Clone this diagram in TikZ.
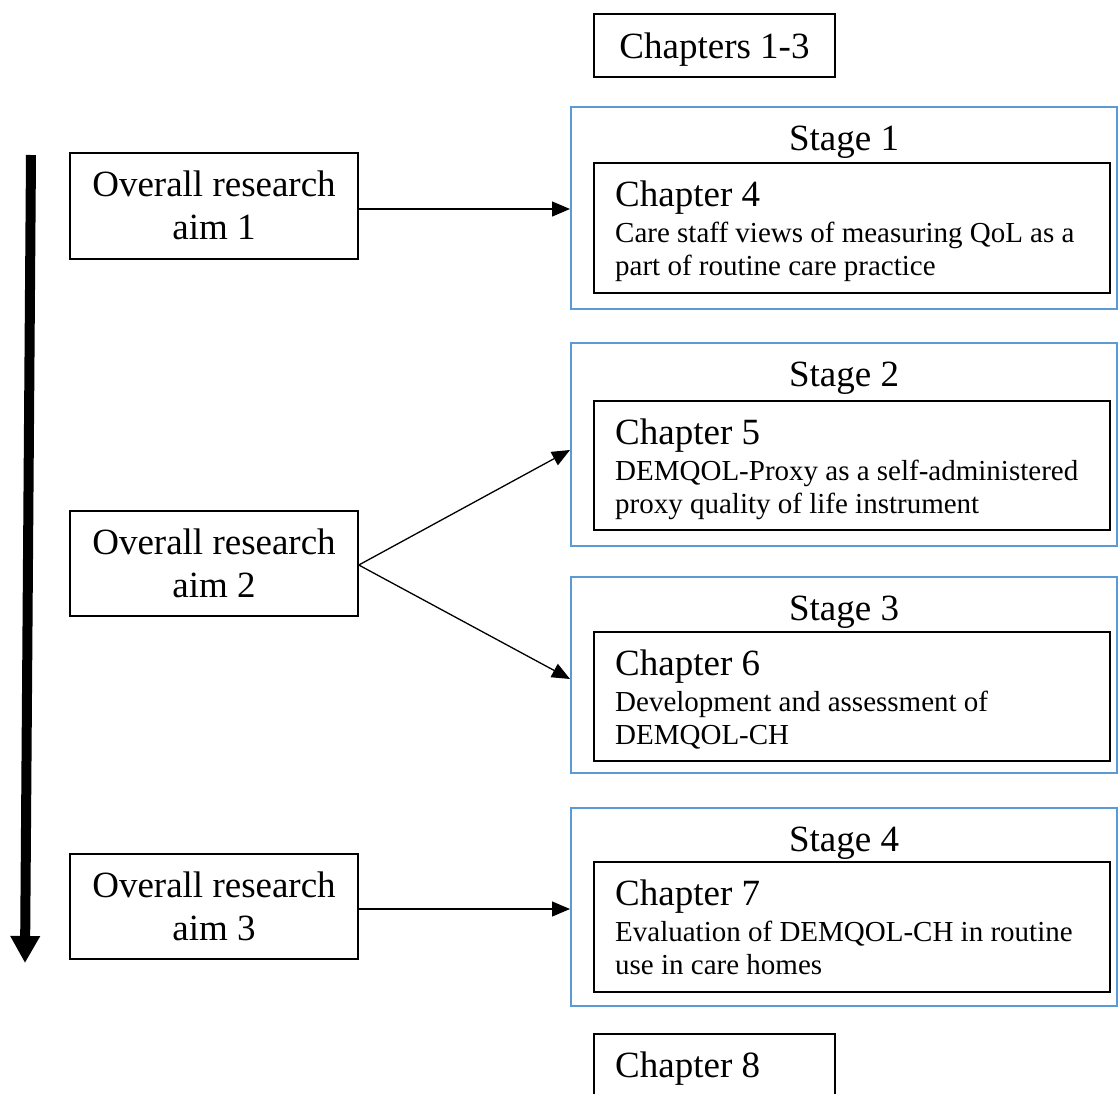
\documentclass[tikz,border=0pt]{standalone}
\usepackage{fontspec}
\setmainfont{Liberation Serif}
\usetikzlibrary{arrows.meta,calc}
\definecolor{stageblue}{HTML}{5B9BD5}
\newcommand\bigtxt{\fontsize{37}{43}\selectfont}
\newcommand\smalltxt{\fontsize{29}{33}\selectfont}
\newcommand\desctext[1]{\parbox[t]{495pt}{\smalltxt\raggedright #1}}

\begin{document}
\begin{tikzpicture}[x=1pt,y=-1pt,
  box/.style={draw=black, line width=1.6pt, rectangle, inner sep=0pt},
  stagebox/.style={draw=stageblue, line width=2pt, rectangle, inner sep=0pt},
  label/.style={inner sep=0pt, anchor=base},
  leftlabel/.style={inner sep=0pt, anchor=base west},
  link/.style={line width=1.3pt, -{Triangle[length=18pt,width=15pt]}},
  flow/.style={line width=10pt, -{Triangle[length=27pt,width=28pt]}}]
\useasboundingbox (0,0) rectangle (1118,1093);
\clip (0,0) rectangle (1118,1093);

% opening chapters
\node[box, minimum width=241, minimum height=63] (ch13) at (714.5,45.5) {};
\node[label] (ch13t) at (714.5,58) {\bigtxt Chapters 1-3};

% stage 1
\node[stagebox, minimum width=546, minimum height=202] (stage1) at (844,208) {};
\node[label] (stage1t) at (844,150) {\bigtxt Stage 1};
\node[box, minimum width=516, minimum height=130] (ch4) at (852,228) {};
\node[leftlabel] (ch4t) at (615,206) {\bigtxt Chapter 4};
\node[leftlabel] (ch4d) at (615,242) {\desctext{Care staff views of measuring QoL as a\\part of routine care practice}};

% stage 2
\node[stagebox, minimum width=546, minimum height=203] (stage2) at (844,444.5) {};
\node[label] (stage2t) at (844,386) {\bigtxt Stage 2};
\node[box, minimum width=516, minimum height=129] (ch5) at (852,465.5) {};
\node[leftlabel] (ch5t) at (615,444) {\bigtxt Chapter 5};
\node[leftlabel] (ch5d) at (615,480) {\desctext{DEMQOL-Proxy as a self-administered\\proxy quality of life instrument}};

% stage 3
\node[stagebox, minimum width=546, minimum height=196] (stage3) at (844,675) {};
\node[label] (stage3t) at (844,620) {\bigtxt Stage 3};
\node[box, minimum width=516, minimum height=129] (ch6) at (852,696.5) {};
\node[leftlabel] (ch6t) at (615,675) {\bigtxt Chapter 6};
\node[leftlabel] (ch6d) at (615,711) {\desctext{Development and assessment of\\DEMQOL-CH}};

% stage 4
\node[stagebox, minimum width=546, minimum height=198] (stage4) at (844,907) {};
\node[label] (stage4t) at (844,851) {\bigtxt Stage 4};
\node[box, minimum width=516, minimum height=130] (ch7) at (852,927) {};
\node[leftlabel] (ch7t) at (615,905) {\bigtxt Chapter 7};
\node[leftlabel] (ch7d) at (615,941) {\desctext{Evaluation of DEMQOL-CH in routine\\use in care homes}};

% closing chapter
\node[box, minimum width=241, minimum height=86] (ch8) at (714.5,1077) {};
\node[leftlabel] (ch8t) at (615,1077) {\bigtxt Chapter 8};

% research aims
\node[box, minimum width=288, minimum height=106] (aim1) at (214,206) {};
\node[label] (aim1a) at (214,196) {\bigtxt Overall research};
\node[label] (aim1b) at (214,239) {\bigtxt aim 1};

\node[box, minimum width=288, minimum height=105] (aim2) at (214,563.5) {};
\node[label] (aim2a) at (214,554) {\bigtxt Overall research};
\node[label] (aim2b) at (214,597) {\bigtxt aim 2};

\node[box, minimum width=288, minimum height=105] (aim3) at (214,906.5) {};
\node[label] (aim3a) at (214,897) {\bigtxt Overall research};
\node[label] (aim3b) at (214,940) {\bigtxt aim 3};

% links from aims to stages
\draw[link] ([yshift=-3pt]aim1.east) -- ([yshift=-3pt]aim1.east -| stage1.west);
\draw[link] ([yshift=-1.5pt]aim2.east) -- ([yshift=-5.5pt]stage2.west);
\draw[link] ([yshift=-1.5pt]aim2.east) -- ([yshift=-4pt]stage3.west);
\draw[link] ([yshift=-2.5pt]aim3.east) -- ([yshift=-2.5pt]aim3.east -| stage4.west);

% overall direction of the work
\coordinate (flowtop) at (31,155);
\coordinate (flowend) at (25,963);
\draw[flow] (flowtop) -- (flowend);
\end{tikzpicture}
\end{document}
